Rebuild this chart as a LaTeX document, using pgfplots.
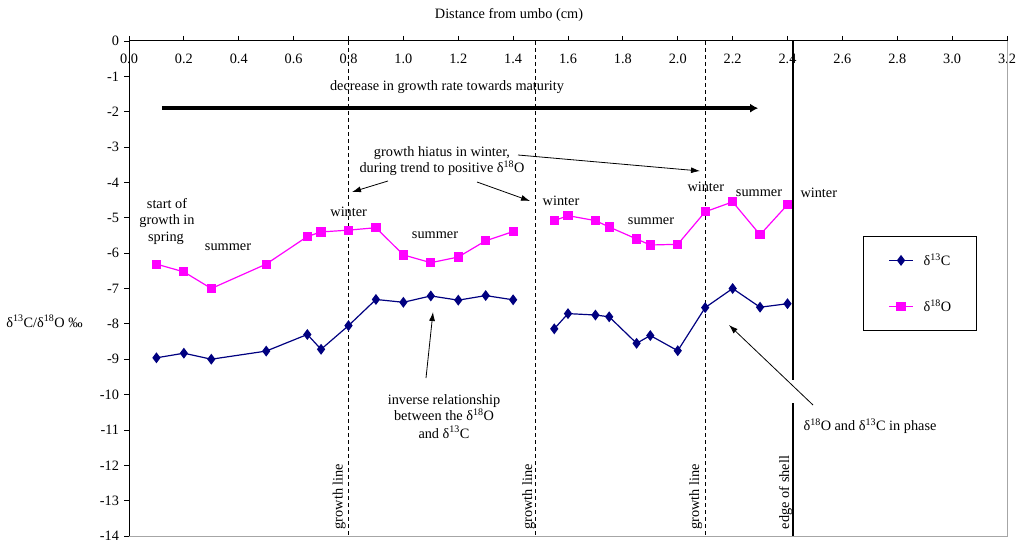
\documentclass[border=0pt]{standalone}
\usepackage{pgfplots}
\pgfplotsset{compat=1.18}
\usepackage{fontspec}
\setmainfont{Liberation Serif}
\usetikzlibrary{arrows.meta}
\definecolor{cnavy}{RGB}{0,0,128}
\definecolor{cmag}{RGB}{255,0,255}
\begin{document}%
\fontsize{14.3}{17}\selectfont%
\begin{tikzpicture}
\useasboundingbox (0,0) rectangle (1018pt,542pt);
\begin{axis}[
  at={(129pt,6pt)}, anchor=south west,
  scale only axis, width=878pt, height=495pt,
  xmin=0, xmax=3.2, ymin=-14, ymax=0,
  axis x line*=top, axis y line*=left,
  axis line style={black, line width=1pt, -},
  tick style={black, line width=0.8pt},
  major tick length=5pt, tick align=outside,
  xtick={0,0.2,0.4,0.6,0.8,1.0,1.2,1.4,1.6,1.8,2.0,2.2,2.4,2.6,2.8,3.0,3.2},
  xticklabels={0.0,0.2,0.4,0.6,0.8,1.0,1.2,1.4,1.6,1.8,2.0,2.2,2.4,2.6,2.8,3.0,3.2},
  xticklabel style={anchor=north, yshift=-13.5pt},
  ytick={-14,-13,-12,-11,-10,-9,-8,-7,-6,-5,-4,-3,-2,-1,0},
  yticklabels={-14,-13,-12,-11,-10,-9,-8,-7,-6,-5,-4,-3,-2,-1,0},
  clip=false,
  unbounded coords=jump,
  legend cell align=left,
  legend image code/.code={\draw[mark repeat=2,mark phase=2,#1] plot coordinates {(0pt,0pt) (12pt,0pt) (24pt,0pt)};},
  legend style={at={(0.836,0.606)}, anchor=north west, draw=black, line width=0.8pt,
    inner xsep=25pt, inner ysep=17pt, row sep=32pt, nodes={inner sep=0pt},
    /tikz/every odd column/.append style={column sep=10pt}},
]
\addplot[cnavy, line width=1.2pt, mark=diamond*, mark size=4.5pt, mark options={solid, fill=cnavy}] coordinates {
(0.1,-8.96) (0.2,-8.83) (0.3,-9.00) (0.5,-8.77) (0.65,-8.30) (0.7,-8.72) (0.8,-8.05)
(0.9,-7.31) (1.0,-7.39) (1.1,-7.21) (1.2,-7.33) (1.3,-7.20) (1.4,-7.32)
(1.47,nan)
(1.55,-8.14) (1.6,-7.71) (1.7,-7.75) (1.75,-7.80) (1.85,-8.55) (1.9,-8.33) (2.0,-8.76)
(2.1,-7.54) (2.2,-7.00) (2.3,-7.53) (2.4,-7.43)
};
\addlegendentry{δ\textsuperscript{13}C}
\addplot[cmag, line width=1.2pt, mark=square*, mark size=4pt, mark options={solid, fill=cmag}] coordinates {
(0.1,-6.31) (0.2,-6.53) (0.3,-7.00) (0.5,-6.31) (0.65,-5.53) (0.7,-5.40) (0.8,-5.35)
(0.9,-5.28) (1.0,-6.05) (1.1,-6.27) (1.2,-6.11) (1.3,-5.65) (1.4,-5.39)
(1.47,nan)
(1.55,-5.08) (1.6,-4.94) (1.7,-5.08) (1.75,-5.26) (1.85,-5.60) (1.9,-5.77) (2.0,-5.75)
(2.1,-4.83) (2.2,-4.55) (2.3,-5.48) (2.4,-4.63)
};
\addlegendentry{δ\textsuperscript{18}O}
% borders
\draw[gray!70, line width=1pt] (axis cs:0,-14) -- (axis cs:3.2,-14) -- (axis cs:3.2,0);
% growth lines
\draw[black, line width=1pt, dash pattern=on 4pt off 3pt] (axis cs:0.8,0) -- (axis cs:0.8,-14);
\draw[black, line width=1pt, dash pattern=on 4pt off 3pt] (axis cs:1.483,0) -- (axis cs:1.483,-14);
\draw[black, line width=1pt, dash pattern=on 4pt off 3pt] (axis cs:2.1,0) -- (axis cs:2.1,-14);
% edge of shell
\draw[black, line width=1.5pt] (axis cs:2.42,0) -- (axis cs:2.42,-9.59);
\draw[black, line width=1.5pt] (axis cs:2.42,-10.24) -- (axis cs:2.42,-14);
% growth-rate arrow
\draw[black, line width=3.5pt, -{Latex[length=8pt,width=9pt]}] (axis cs:0.12,-1.9) -- (axis cs:2.293,-1.9);
\end{axis}
\begin{scope}[x=1pt, y=-1pt, yshift=542pt, every node/.style={inner sep=0pt, anchor=base}]
\node at (509,19) {Distance from umbo (cm)};
\node at (44.5,327) {δ\textsuperscript{13}C/δ\textsuperscript{18}O ‰};
\node at (447,91) {decrease in growth rate towards maturity};
\node at (442,157) {growth hiatus in winter,};
\node at (442,172.7) {during trend to positive δ\textsuperscript{18}O};
\node at (167,208.7) {start of};
\node at (167,224.7) {growth in};
\node at (166,241) {spring};
\node at (228,251) {summer};
\node at (348.7,216.7) {winter};
\node at (435,238.7) {summer};
\node at (561,205) {winter};
\node at (651,224) {summer};
\node at (705.8,191.7) {winter};
\node at (759,196.7) {summer};
\node at (818.8,197.7) {winter};
\node at (444,404) {inverse relationship};
\node at (444,420.7) {between the δ\textsuperscript{18}O};
\node at (444,438) {and δ\textsuperscript{13}C};
\node at (870,430.7) {δ\textsuperscript{18}O and δ\textsuperscript{13}C in phase};
\node[rotate=90] at (342.7,496.5) {growth line};
\node[rotate=90] at (532,496.7) {growth line};
\node[rotate=90] at (699,496.7) {growth line};
\node[rotate=90] at (789,492.5) {edge of shell};
\draw[line width=0.8pt, -{Latex[length=9pt,width=6pt]}] (388,181) -- (352,192);
\draw[line width=0.8pt, -{Latex[length=9pt,width=6pt]}] (477,182) -- (530,201);
\draw[line width=0.8pt, -{Latex[length=9pt,width=6pt]}] (518,155) -- (700,171);
\draw[line width=0.8pt, -{Latex[length=9pt,width=6pt]}] (426,378) -- (433,312);
\draw[line width=0.8pt, -{Latex[length=9pt,width=6pt]}] (813,405) -- (729,325);
\end{scope}
\end{tikzpicture}%
\end{document}
